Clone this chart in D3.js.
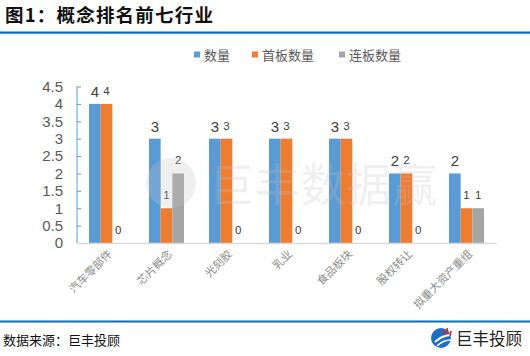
<!DOCTYPE html>
<html><head><meta charset="utf-8">
<script src="https://cdn.jsdelivr.net/npm/d3@7"></script>
<style>
html,body{margin:0;padding:0;background:#fff;}
svg{display:block;}
</style></head>
<body>
<svg id="chart" width="530" height="356"></svg>
<script>
const categories = ["汽车零部件","芯片概念","光刻胶","乳业","食品板块","股权转让","拟重大资产重组"];
const seriesNames = ["数量","首板数量","连板数量"];
const countValues = [4,3,3,3,3,2,2];
const firstBoardValues = [4,1,3,3,3,2,1];
const multiBoardValues = [0,2,0,0,0,0,1];
const yTicks = [0,0.5,1,1.5,2,2.5,3,3.5,4,4.5];
const colors = ["#5b9bd5","#ed7d31","#a5a5a5"];

const svg = d3.select("#chart");
const cjk = "'Noto Sans CJK SC','Microsoft YaHei',sans-serif";
const latin = "'Liberation Sans',Arial,sans-serif";

// title
svg.append("text").attr("x",5).attr("y",22).text("图1：概念排名前七行业")
  .attr("font-family",cjk).attr("font-weight","bold").attr("font-size",18.5)
  .attr("letter-spacing",1.2).attr("fill","#111");
svg.append("rect").attr("x",0).attr("y",31.5).attr("width",530).attr("height",2.2).attr("fill","#0070c0");

// legend
const legX = [194,252,339];
seriesNames.forEach((n,i)=>{
  svg.append("rect").attr("x",legX[i]).attr("y",51.5).attr("width",6).attr("height",6).attr("fill",colors[i]);
  svg.append("text").attr("x",legX[i]+10).attr("y",59.5).text(n)
    .attr("font-family",cjk).attr("font-size",13).attr("fill","#595959");
});

const x0 = d3.scaleBand().domain(categories).range([77,497]).paddingInner(0).paddingOuter(0);
const x1 = d3.scaleBand().domain(seriesNames).range([12,47]);
const y = d3.scaleLinear().domain([0,4.5]).range([243,86.5]);

// bars
const data = categories.map((c,i)=>({cat:c, vals:[countValues[i],firstBoardValues[i],multiBoardValues[i]]}));
const groups = svg.append("g").selectAll("g").data(data).join("g")
  .attr("transform",d=>`translate(${x0(d.cat)},0)`);
groups.selectAll("rect").data(d=>d.vals.map((v,i)=>({v,i})).filter(e=>e.v>0)).join("rect")
  .attr("x",e=>x1(seriesNames[e.i])).attr("width",x1.bandwidth())
  .attr("y",e=>y(e.v)).attr("height",e=>y(0)-y(e.v)).attr("fill",e=>colors[e.i]);

// watermark overlay
const wmg = svg.append("g").attr("fill","#c0c0c0").attr("fill-opacity",0.26);
wmg.append("circle").attr("cx",171).attr("cy",183).attr("r",25);
wmg.append("text").attr("x",209).attr("y",202).text("巨丰数据赢")
  .attr("font-family",cjk).attr("font-size",45).attr("textLength",228);

// labels
groups.selectAll("text.lab").data(d=>d.vals.map((v,i)=>({v,i}))).join("text").attr("class","lab")
  .attr("x",e=>x1(seriesNames[e.i])+x1.bandwidth()/2)
  .attr("y",e=>y(e.v)-(e.i===0?7:9))
  .attr("text-anchor","middle")
  .attr("font-family",latin)
  .attr("font-size",e=>e.i===0?15:11.5)
  .attr("fill","#404040")
  .text(e=>e.v);

// y axis
const yAxis = d3.axisLeft(y).tickValues(yTicks).tickSize(-4).tickPadding(14).tickFormat(d=>d);
const ya = svg.append("g").attr("transform","translate(77,0)").call(yAxis);
ya.select(".domain").attr("stroke","#5b9bd5").attr("d","M0,86.5V243");
ya.selectAll(".tick line").attr("stroke","#5b9bd5");
ya.selectAll(".tick text").attr("font-family",latin).attr("font-size",15).attr("fill","#595959");

// baseline
svg.append("line").attr("x1",77).attr("x2",497).attr("y1",243.5).attr("y2",243.5).attr("stroke","#d9d9d9").attr("stroke-width",1.3);

// x labels
svg.append("g").selectAll("text").data(categories).join("text")
  .attr("transform",d=>`translate(${x0(d)+x0.bandwidth()/2+3},${252}) rotate(-45)`)
  .attr("text-anchor","end").attr("dy","0.35em")
  .attr("font-family",cjk).attr("font-size",11).attr("fill","#8c8c8c")
  .text(d=>d);

// footer
svg.append("rect").attr("x",0).attr("y",320.5).attr("width",530).attr("height",2).attr("fill","#0070c0");
svg.append("text").attr("x",3).attr("y",345).text("数据来源：巨丰投顾")
  .attr("font-family",cjk).attr("font-size",13).attr("fill","#111");
const logo = svg.append("g").attr("transform","translate(441,338)");
logo.append("circle").attr("r",10).attr("fill","#1f6fc2");
logo.append("path").attr("d","M-6,4 Q0,-2 9,-3").attr("stroke","#fff").attr("stroke-width",2).attr("fill","none");
logo.append("path").attr("d","M-4,8 Q2,2 10,2").attr("stroke","#fff").attr("stroke-width",1.6).attr("fill","none");
logo.append("path").attr("d","M2,-8 L4,-3 M6,-10 L7,-4 M10,-7 L9,-2").attr("stroke","#e02020").attr("stroke-width",1.6);
svg.append("text").attr("x",456).attr("y",345).text("巨丰投顾")
  .attr("font-family",cjk).attr("font-size",16.5).attr("fill","#222");
</script>
</body></html>
